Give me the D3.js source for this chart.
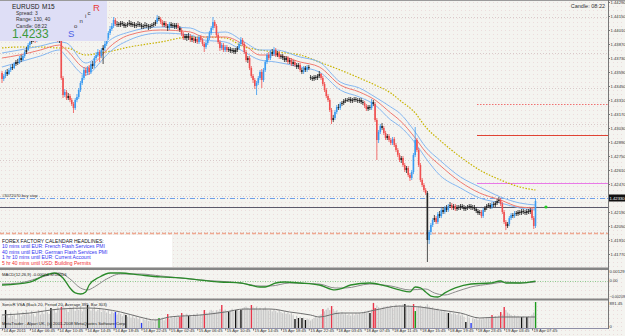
<!DOCTYPE html>
<html>
<head>
<meta charset="utf-8">
<script src="https://cdn.jsdelivr.net/npm/d3@7"></script>
<style>
body { margin: 0; background: #f4f4f0; }
svg { display: block; font-family: "Liberation Sans", Arial, sans-serif; }
</style>
</head>
<body>
<div id="chart"></div>
<script>
// EURUSD M15, 14 Apr 02:45 .. 19 Apr 08:15 (one entry per bar)
var firstOpen = 1.4358;
var closes = [
1.4352,1.4355,1.4359,1.4357,1.4361,1.4364,1.4363,1.4367,1.4369,1.4368,
1.4373,1.4371,1.4375,1.4379,1.4381,1.4386,1.4389,1.4391,1.4393,1.4390,
1.4395,1.4397,1.4394,1.4398,1.4396,1.4400,1.4397,1.4395,1.4399,1.4396,
1.4393,1.4395,1.4391,1.4390,1.4353,1.4336,1.4339,1.4333,1.4335,1.4331,
1.4327,1.4323,1.4331,1.4334,1.4341,1.4348,1.4353,1.4361,1.4358,1.4363,
1.4359,1.4367,1.4365,1.4373,1.4376,1.4379,1.4375,1.4381,1.4383,1.4387,
1.4393,1.4398,1.4402,1.4405,1.4411,1.4407,1.4407,1.4406,1.4408,1.4407,
1.4405,1.4406,1.4407,1.4408,1.4406,1.4407,1.4405,1.4406,1.4407,1.4406,
1.4404,1.4405,1.4406,1.4405,1.4404,1.4405,1.4406,1.4407,1.4409,1.4413,
1.4412,1.4409,1.4406,1.4408,1.4405,1.4403,1.4407,1.4405,1.4406,1.4404,
1.4406,1.4403,1.4401,1.4397,1.4393,1.4395,1.4393,1.4395,1.4391,1.4393,
1.4390,1.4392,1.4389,1.4394,1.4391,1.4387,1.4384,1.4388,1.4393,1.4398,
1.4403,1.4409,1.4405,1.4396,1.4389,1.4383,1.4386,1.4381,1.4384,1.4381,
1.4382,1.4380,1.4381,1.4379,1.4381,1.4383,1.4387,1.4391,1.4387,1.4379,
1.4371,1.4373,1.4363,1.4355,1.4351,1.4345,1.4348,1.4353,1.4359,1.4351,
1.4361,1.4369,1.4376,1.4373,1.4379,1.4377,1.4381,1.4376,1.4378,1.4374,
1.4375,1.4373,1.4371,1.4373,1.4369,1.4371,1.4367,1.4369,1.4366,1.4364,
1.4366,1.4361,1.4359,1.4363,1.4361,1.4364,1.4363,1.4353,1.4352,1.4354,
1.4353,1.4355,1.4357,1.4353,1.4347,1.4341,1.4335,1.4331,1.4321,1.4311,
1.4313,1.4319,1.4324,1.4323,1.4327,1.4328,1.4330,1.4331,1.4331,1.4332,
1.4330,1.4331,1.4332,1.4331,1.4330,1.4331,1.4329,1.4328,1.4325,1.4322,
1.4324,1.4323,1.4329,1.4327,1.4311,1.4291,1.4299,1.4305,1.4303,1.4298,
1.4293,1.4295,1.4291,1.4288,1.4292,1.4286,1.4281,1.4276,1.4271,1.4273,
1.4266,1.4261,1.4263,1.4256,1.4253,1.4259,1.4276,1.4291,1.4281,1.4266,
1.4251,1.4246,1.4241,1.4238,1.4191,1.4199,1.4206,1.4211,1.4213,1.4209,
1.4217,1.4215,1.4221,1.4219,1.4223,1.4221,1.4225,1.4226,1.4223,1.4225,
1.4222,1.4224,1.4223,1.4225,1.4224,1.4222,1.4223,1.4224,1.4225,1.4223,
1.4224,1.4222,1.4220,1.4218,1.4219,1.4215,1.4221,1.4223,1.4225,1.4226,
1.4224,1.4227,1.4226,1.4228,1.4230,1.4231,1.4227,1.4219,1.4209,1.4205,
1.4207,1.4213,1.4216,1.4215,1.4218,1.4217,1.4219,1.4218,1.4220,1.4219,
1.4218,1.4220,1.4219,1.4221,1.4213,1.4205,1.4230];
var highs = [
1.4360,1.4357,1.4361,1.4362,1.4363,1.4366,1.4367,1.4369,1.4371,1.4372,
1.4375,1.4376,1.4377,1.4381,1.4384,1.4388,1.4392,1.4394,1.4396,1.4395,
1.4397,1.4400,1.4399,1.4401,1.4400,1.4403,1.4402,1.4399,1.4401,1.4400,
1.4398,1.4397,1.4396,1.4393,1.4392,1.4355,1.4342,1.4341,1.4338,1.4337,
1.4333,1.4329,1.4333,1.4337,1.4343,1.4350,1.4356,1.4364,1.4363,1.4365,
1.4366,1.4369,1.4370,1.4375,1.4379,1.4382,1.4381,1.4383,1.4386,1.4390,
1.4395,1.4400,1.4405,1.4408,1.4414,1.4413,1.4410,1.4409,1.4410,1.4410,
1.4409,1.4408,1.4409,1.4411,1.4410,1.4409,1.4409,1.4408,1.4410,1.4409,
1.4408,1.4407,1.4409,1.4408,1.4407,1.4407,1.4408,1.4409,1.4411,1.4416,
1.4415,1.4414,1.4411,1.4410,1.4410,1.4407,1.4409,1.4409,1.4408,1.4408,
1.4408,1.4408,1.4405,1.4403,1.4399,1.4397,1.4397,1.4398,1.4397,1.4395,
1.4395,1.4394,1.4394,1.4396,1.4396,1.4393,1.4389,1.4390,1.4395,1.4400,
1.4405,1.4414,1.4411,1.4407,1.4398,1.4391,1.4388,1.4388,1.4386,1.4386,
1.4384,1.4384,1.4383,1.4383,1.4383,1.4385,1.4389,1.4394,1.4393,1.4389,
1.4381,1.4375,1.4375,1.4365,1.4357,1.4353,1.4350,1.4355,1.4361,1.4362,
1.4363,1.4371,1.4378,1.4379,1.4381,1.4382,1.4384,1.4383,1.4380,1.4380,
1.4377,1.4377,1.4375,1.4375,1.4375,1.4373,1.4373,1.4371,1.4371,1.4368,
1.4368,1.4368,1.4363,1.4365,1.4365,1.4366,1.4366,1.4356,1.4355,1.4356,
1.4356,1.4357,1.4360,1.4358,1.4355,1.4349,1.4343,1.4337,1.4333,1.4323,
1.4316,1.4321,1.4326,1.4327,1.4329,1.4330,1.4332,1.4333,1.4333,1.4334,
1.4334,1.4333,1.4334,1.4334,1.4333,1.4333,1.4333,1.4331,1.4330,1.4327,
1.4326,1.4326,1.4332,1.4331,1.4329,1.4313,1.4301,1.4307,1.4308,1.4305,
1.4300,1.4297,1.4297,1.4293,1.4294,1.4294,1.4288,1.4283,1.4278,1.4275,
1.4275,1.4268,1.4265,1.4265,1.4258,1.4261,1.4278,1.4304,1.4293,1.4283,
1.4268,1.4253,1.4248,1.4243,1.4240,1.4201,1.4208,1.4213,1.4216,1.4215,
1.4219,1.4220,1.4223,1.4224,1.4225,1.4226,1.4227,1.4229,1.4228,1.4227,
1.4227,1.4226,1.4226,1.4227,1.4227,1.4226,1.4225,1.4226,1.4227,1.4227,
1.4226,1.4226,1.4224,1.4222,1.4221,1.4221,1.4223,1.4225,1.4227,1.4228,
1.4228,1.4229,1.4229,1.4230,1.4232,1.4234,1.4233,1.4229,1.4221,1.4211,
1.4209,1.4215,1.4218,1.4218,1.4220,1.4220,1.4221,1.4221,1.4222,1.4222,
1.4221,1.4222,1.4222,1.4223,1.4223,1.4215,1.4233];
var lows = [
1.4348,1.4350,1.4353,1.4355,1.4356,1.4359,1.4361,1.4362,1.4365,1.4366,
1.4367,1.4369,1.4370,1.4373,1.4377,1.4380,1.4384,1.4387,1.4389,1.4388,
1.4389,1.4393,1.4392,1.4393,1.4394,1.4395,1.4395,1.4393,1.4394,1.4394,
1.4391,1.4391,1.4389,1.4388,1.4351,1.4333,1.4334,1.4331,1.4331,1.4329,
1.4325,1.4318,1.4321,1.4329,1.4332,1.4339,1.4346,1.4351,1.4355,1.4356,
1.4356,1.4357,1.4362,1.4363,1.4371,1.4374,1.4369,1.4373,1.4367,1.4380,
1.4385,1.4391,1.4396,1.4400,1.4403,1.4405,1.4404,1.4404,1.4404,1.4405,
1.4403,1.4403,1.4404,1.4405,1.4404,1.4404,1.4403,1.4403,1.4404,1.4404,
1.4402,1.4402,1.4403,1.4403,1.4401,1.4402,1.4403,1.4404,1.4405,1.4407,
1.4410,1.4407,1.4404,1.4404,1.4403,1.4400,1.4401,1.4403,1.4403,1.4402,
1.4402,1.4401,1.4399,1.4395,1.4391,1.4391,1.4390,1.4391,1.4389,1.4389,
1.4388,1.4388,1.4387,1.4387,1.4389,1.4385,1.4379,1.4382,1.4386,1.4391,
1.4396,1.4401,1.4403,1.4394,1.4387,1.4380,1.4381,1.4379,1.4379,1.4379,
1.4379,1.4378,1.4378,1.4377,1.4377,1.4379,1.4381,1.4385,1.4385,1.4377,
1.4369,1.4368,1.4361,1.4353,1.4348,1.4342,1.4336,1.4346,1.4351,1.4343,
1.4349,1.4359,1.4367,1.4371,1.4371,1.4375,1.4375,1.4374,1.4374,1.4372,
1.4372,1.4371,1.4369,1.4369,1.4367,1.4367,1.4365,1.4365,1.4364,1.4362,
1.4362,1.4359,1.4357,1.4357,1.4359,1.4359,1.4361,1.4351,1.4350,1.4350,
1.4351,1.4351,1.4353,1.4351,1.4345,1.4339,1.4333,1.4329,1.4319,1.4307,
1.4309,1.4311,1.4317,1.4321,1.4321,1.4325,1.4326,1.4328,1.4329,1.4329,
1.4328,1.4328,1.4329,1.4329,1.4328,1.4328,1.4327,1.4326,1.4323,1.4320,
1.4320,1.4321,1.4321,1.4325,1.4309,1.4271,1.4288,1.4297,1.4301,1.4296,
1.4291,1.4291,1.4289,1.4286,1.4286,1.4284,1.4279,1.4274,1.4269,1.4268,
1.4264,1.4259,1.4258,1.4254,1.4250,1.4251,1.4257,1.4274,1.4279,1.4264,
1.4249,1.4244,1.4239,1.4236,1.4169,1.4187,1.4196,1.4204,1.4209,1.4207,
1.4207,1.4213,1.4213,1.4217,1.4217,1.4219,1.4219,1.4223,1.4221,1.4221,
1.4220,1.4220,1.4221,1.4221,1.4222,1.4220,1.4220,1.4221,1.4222,1.4221,
1.4221,1.4220,1.4218,1.4216,1.4216,1.4213,1.4213,1.4219,1.4221,1.4223,
1.4222,1.4222,1.4224,1.4224,1.4226,1.4228,1.4225,1.4217,1.4207,1.4201,
1.4203,1.4205,1.4211,1.4213,1.4213,1.4215,1.4215,1.4216,1.4216,1.4217,
1.4216,1.4216,1.4217,1.4217,1.4211,1.4202,1.4203];
// Monday open after the weekend gap
var gapBars = [177];
var gapOpens = [1.4354];
// candles painted plain although the body is large
var plainCandles = [244];

// Sonic R dragon (EMA34 high / close / low) and EMA89, read at these bars
var maBars = [0,10,22,33,37,48,56,60,73,91,108,116,128,139,148,157,171,182,194,205,214,223,228,237,243,251,263,274,286,297,306];
var dragonHigh = [1.4378,1.4381,1.4385,1.4389,1.4388,1.4368,1.4378,1.4388,1.4399,1.4404,1.4403,1.4398,1.4399,1.4389,1.4381,1.4381,1.4374,1.4369,1.4349,1.4343,1.4334,1.4324,1.4318,1.4299,1.4284,1.4271,1.4254,1.4244,1.4234,1.4228,1.4226];
var dragonMid = [1.4373,1.4376,1.4381,1.4386,1.4381,1.4363,1.4373,1.4381,1.4396,1.4401,1.4399,1.4394,1.4394,1.4386,1.4376,1.4376,1.4369,1.4364,1.4346,1.4339,1.4331,1.4318,1.4311,1.4293,1.4279,1.4266,1.4249,1.4238,1.4231,1.4224,1.4223];
var dragonLow = [1.4364,1.4369,1.4375,1.4381,1.4374,1.4356,1.4368,1.4376,1.4391,1.4398,1.4396,1.4391,1.4389,1.4379,1.4371,1.4369,1.4364,1.4359,1.4341,1.4334,1.4326,1.4311,1.4305,1.4288,1.4273,1.4256,1.4243,1.4233,1.4228,1.4223,1.4221];
var ema89 = [1.4383,1.4384,1.4384,1.4383,1.4383,1.4376,1.4378,1.4379,1.4384,1.4389,1.4394,1.4394,1.4393,1.4384,1.4381,1.4379,1.4376,1.4369,1.4361,1.4353,1.4346,1.4338,1.4331,1.4318,1.4304,1.4291,1.4274,1.4261,1.4251,1.4244,1.4241];

// horizontal levels
var gridLevels = [1.4414,1.4378,1.4343,1.4307,1.4271,1.4235,1.4199];
var tpLevel = 1.4327, slLevel = 1.4296, entryLevel = 1.4248;
var buyStopLevel = 1.4233, bidLevel = 1.4224, lowZoneLevel = 1.4198;
var lastPrice = 1.4233;

var priceTicks = [1.4429,1.4415,1.4401,1.4387,1.4373,1.4359,1.4345,1.4331,1.4317,1.4303,1.4289,1.4275,1.4261,1.4247,1.4219,1.4205,1.4191,1.4177];
var timeLabels = ["14 Apr 2011","14 Apr 06:45","14 Apr 10:45","14 Apr 14:45","14 Apr 18:45","14 Apr 22:45","15 Apr 02:45","15 Apr 06:45","15 Apr 10:45","15 Apr 14:45","15 Apr 18:45","15 Apr 22:45","18 Apr 03:45","18 Apr 07:45","18 Apr 11:45","18 Apr 15:45","18 Apr 19:45","18 Apr 23:45","19 Apr 03:45","19 Apr 07:45"];
var barsPerLabel = 16;

// MACD lines
var macdBars = [0,16,25,30,35,39,42,45,48,50,56,62,68,79,91,102,114,125,137,142,148,151,157,162,171,182,191,194,200,211,220,228,234,237,240,243,246,250,254,260,269,280,286,289,291,297,306];
var macdMain = [-0.00052,-0.00016,0.00069,0.00093,0.00033,-0.00088,-0.00148,-0.00161,-0.00136,-0.00052,0.00045,0.00093,0.00093,0.00069,0.00045,0.00033,0.00008,-0.00016,-0.00028,-0.00052,-0.00076,-0.00076,-0.00028,-0.00016,-0.00028,-0.00052,-0.00112,-0.00100,-0.00052,-0.00028,-0.00064,-0.00112,-0.00136,-0.00076,-0.00088,-0.00136,-0.00185,-0.00197,-0.00148,-0.00088,-0.00040,-0.00028,-0.00004,-0.00028,-0.00028,-0.00028,-0.00004];
var signalBars = [0,10,25,33,39,45,49,53,59,68,79,91,114,137,148,154,165,182,191,197,211,223,234,243,248,254,260,269,280,289,297,306];
var macdSignal = [-0.00040,-0.00028,0.00057,0.00093,0.00021,-0.00088,-0.00112,-0.00076,0.00008,0.00081,0.00081,0.00057,0.00008,-0.00028,-0.00064,-0.00064,-0.00028,-0.00040,-0.00088,-0.00088,-0.00040,-0.00064,-0.00112,-0.00100,-0.00148,-0.00173,-0.00136,-0.00076,-0.00040,-0.00016,-0.00028,-0.00016];

// SonicR VSA volumes (ticks)
var volumes = [
420,380,605,460,350,520,410,470,300,560,480,390,540,450,610,500,430,580,470,390,
520,610,450,560,480,700,530,470,672,590,640,520,700,610,706,760,680,620,540,700,
650,720,580,690,610,740,560,660,630,773,700,590,650,720,560,610,680,540,620,590,
520,600,470,560,500,538,440,520,470,400,490,437,380,440,350,410,330,390,300,360,
168,320,280,350,240,300,260,220,310,280,336,290,350,260,330,470,300,380,340,400,
360,420,370,504,450,390,480,403,440,380,470,420,500,390,460,430,605,520,480,550,
610,570,520,600,560,640,773,580,620,540,538,590,650,560,605,620,580,605,660,700,
720,680,640,773,700,660,720,620,680,600,650,700,620,590,640,560,610,580,520,600,
540,500,560,480,520,460,500,430,302,410,336,380,336,350,269,320,290,250,300,340,
380,330,420,460,638,560,620,680,600,739,640,560,590,520,480,540,460,500,440,470,
420,480,430,500,450,520,470,540,560,510,590,504,620,840,672,760,700,650,690,720,
660,740,700,760,680,720,790,700,760,730,800,806,720,770,740,700,806,571,690,740,
760,720,690,740,800,720,680,700,640,620,660,580,610,560,590,520,504,540,470,510,
480,440,500,420,460,380,202,400,350,168,330,300,360,280,320,290,340,300,360,330,
380,437,350,400,360,420,538,450,706,600,520,480,440,400,430,380,410,360,370,390,
350,370,400,360,450,520,874];
var vsaMarkBars = [2,28,34,49,65,71,80,90,95,102,103,107,116,126,130,134,137,143,168,170,172,174,184,189,211,213,214,231,236,237,256,266,269,281,286,288,298,301,306];
var vsaMarkTone = ["k","k","r","k","b","k","b","g","r","r","r","k","r","r","k","k","k","r","k","k","k","k","r","r","k","r","r","k","r","g","k","k","b","r","r","r","k","k","g"];
var avgBars = [0,16,33,50,68,79,88,96,114,128,139,154,165,177,182,194,205,214,228,240,251,263,274,286,306];
var volumeAvg = [437,504,638,672,538,370,269,370,437,538,638,638,538,437,370,504,504,605,739,706,605,504,336,370,370];

function drawChart(){
    var w = 625, h = 336;
    var axisX = 608;
    var small = 4.2;

    var svg = d3.select("#chart").append("svg")
        .attr("width", w)
        .attr("height", h);

    var defs = svg.append("defs");
    var pat = defs.append("pattern").attr("id", "dots")
        .attr("width", 4).attr("height", 4)
        .attr("patternUnits", "userSpaceOnUse");
    pat.append("rect").attr("width", 4).attr("height", 4).attr("fill", "#f4f4f0");
    pat.append("rect").attr("x", 1).attr("y", 2).attr("width", 1).attr("height", 1).attr("fill", "#ecdcdc");
    defs.append("clipPath").attr("id", "mainClip")
        .append("rect").attr("x", 0).attr("y", 0).attr("width", axisX).attr("height", 267);

    svg.append("rect").attr("width", w).attr("height", h).attr("fill", "url(#dots)");

    var x = d3.scaleLinear().domain([0, 304]).range([2, 532]);
    var y = d3.scaleLinear().domain([1.4166, 1.4431]).range([265, 0]);
    var yMacd = d3.scaleLinear().domain([-0.00209, 0.00129]).range([298, 270]);
    var yVol = d3.scaleLinear().domain([0, 891.45]).range([328, 301.5]);

    var main = svg.append("g").attr("clip-path", "url(#mainClip)");

    // grid
    main.selectAll("line.grid").data(gridLevels).enter().append("line")
        .attr("x1", 0).attr("x2", axisX)
        .attr("y1", function(d){ return Math.round(y(d)) + 0.5; })
        .attr("y2", function(d){ return Math.round(y(d)) + 0.5; })
        .attr("stroke", "#d9caca").attr("stroke-dasharray", "1,2");

    // order / level lines
    function level(p, x1, color, dash, width){
        var yy = Math.round(y(p)) + 0.5;
        main.append("line").attr("x1", x1).attr("x2", axisX)
            .attr("y1", yy).attr("y2", yy)
            .attr("stroke", color).attr("stroke-width", width || 1)
            .attr("stroke-dasharray", dash);
    }
    level(tpLevel, 477, "#f07070", "1.5,1.5");
    level(slLevel, 477, "#e04434", null, 1.2);
    level(entryLevel, 477, "#e87ae8", null, 1.2);
    level(buyStopLevel, 0, "#6f9ee8", "5,2,1,2");
    level(bidLevel, 0, "#5a5a6a", null);
    level(lowZoneLevel, 0, "#f0a890", "4,2", 1.5);

    // moving averages
    function maLine(vals, color, width, dash){
        var line = d3.line()
            .x(function(d, i){ return x(maBars[i]); })
            .y(function(d){ return y(d); })
            .curve(d3.curveMonotoneX);
        main.append("path").datum(vals).attr("d", line)
            .attr("fill", "none").attr("stroke", color)
            .attr("stroke-width", width).attr("stroke-dasharray", dash);
    }
    maLine(ema89, "#c8b400", 1.2, "1.5,1.5");
    maLine(dragonHigh, "#86b8f0", 1, null);
    maLine(dragonLow, "#86b8f0", 1, null);
    maLine(dragonMid, "#f07a70", 1, null);

    // candles
    var bars = closes.map(function(c, i){
        var g = gapBars.indexOf(i);
        var o = i === 0 ? firstOpen : (g >= 0 ? gapOpens[g] : closes[i - 1]);
        var tone = "#262626";
        if (plainCandles.indexOf(i) < 0 && Math.abs(c - o) >= 0.00025) {
            tone = c > o ? "#3a9bf2" : "#f05050";
        }
        return {i: i, o: o, c: c, h: highs[i], l: lows[i], tone: tone};
    });
    var cg = main.append("g");
    cg.selectAll("line.wick").data(bars).enter().append("line")
        .attr("x1", function(d){ return x(d.i); })
        .attr("x2", function(d){ return x(d.i); })
        .attr("y1", function(d){ return y(d.h); })
        .attr("y2", function(d){ return y(d.l); })
        .attr("stroke", function(d){ return d.tone; })
        .attr("stroke-width", 0.8);
    cg.selectAll("rect.body").data(bars).enter().append("rect")
        .attr("x", function(d){ return x(d.i) - 0.8; })
        .attr("width", 1.6)
        .attr("y", function(d){ return y(Math.max(d.o, d.c)); })
        .attr("height", function(d){ return Math.max(0.8, Math.abs(y(d.o) - y(d.c))); })
        .attr("fill", function(d){ return d.tone; });

    // bid marker
    main.append("circle").attr("cx", x(312)).attr("cy", y(bidLevel))
        .attr("r", 1.6).attr("fill", "#22cc22");

    main.append("text").attr("x", 2).attr("y", y(buyStopLevel) - 1.5)
        .attr("font-size", small).attr("fill", "#333")
        .text("#3072070 buy stop");

    // forex factory headlines
    svg.append("rect").attr("x", 0).attr("y", 235).attr("width", 172).attr("height", 32).attr("fill", "#ffffff");
    var ff = [
        ["FOREX FACTORY CALENDAR  HEADLINES:", "#111"],
        ["10 mins until EUR: French Flash Services PMI", "#3030f0"],
        ["40 mins until EUR: German Flash Services PMI", "#3030f0"],
        ["1 hr 10 mins until EUR: Current Account", "#3030f0"],
        ["5 hr 40 mins until USD: Building Permits", "#f03030"]
    ];
    svg.selectAll("text.ff").data(ff).enter().append("text")
        .attr("x", 2)
        .attr("y", function(d, i){ return 243 + i * 5.4; })
        .attr("font-size", 5).attr("fill", function(d){ return d[1]; })
        .text(function(d){ return d[0]; });

    // info box
    svg.append("rect").attr("x", 0).attr("y", 0).attr("width", 107).attr("height", 41).attr("fill", "#dedef6");
    function label(t, px, py, size, color){
        svg.append("text").attr("x", px).attr("y", py).attr("font-size", size)
            .attr("fill", color).text(t);
    }
    label("EURUSD", 12, 8.5, 6.5, "#222");
    label("M15", 42, 8.5, 6.5, "#222");
    label("Spread: 3", 16, 15, 5, "#333");
    label("Range: 130, 40", 16, 21, 5, "#333");
    label("Candle: 08:22", 16, 27.5, 5, "#333");
    label(lastPrice.toFixed(4), 12, 38, 12, "#3c9a3c");
    label("S", 68, 36.5, 9.5, "#4b5fe6");
    label("o", 74, 28, 6, "#333");
    label("n", 79.5, 23, 6, "#333");
    label("i", 85, 18, 6, "#333");
    label("c", 87.5, 14.5, 6, "#333");
    label("R", 93, 10.5, 9.5, "#e83a3a");

    svg.append("text").attr("x", 605).attr("y", 7.5).attr("text-anchor", "end")
        .attr("font-size", 5.5).attr("fill", "#333").text("Candle: 08:22");

    // MACD panel
    svg.append("line").attr("x1", 0).attr("x2", axisX)
        .attr("y1", Math.round(yMacd(0)) + 0.5).attr("y2", Math.round(yMacd(0)) + 0.5)
        .attr("stroke", "#8fc88f").attr("stroke-dasharray", "1,1.5");
    var sigLine = d3.line()
        .x(function(d, i){ return x(signalBars[i]); })
        .y(function(d){ return yMacd(d); })
        .curve(d3.curveMonotoneX);
    var mainLine = d3.line()
        .x(function(d, i){ return x(macdBars[i]); })
        .y(function(d){ return yMacd(d); })
        .curve(d3.curveMonotoneX);
    svg.append("path").datum(macdSignal).attr("d", sigLine)
        .attr("fill", "none").attr("stroke", "#8c8c8c").attr("stroke-width", 1);
    svg.append("path").datum(macdMain).attr("d", mainLine)
        .attr("fill", "none").attr("stroke", "#2a8a2a").attr("stroke-width", 1.3);
    label("MACD(12,26,9) -0.00004 -0.00016", 2, 275.5, small, "#222");

    // VSA panel
    var toneColor = {k: "#111111", r: "#e8354a", b: "#2a3cf0", g: "#1c9a1c"};
    var vol = volumes.map(function(v, i){
        var m = vsaMarkBars.indexOf(i);
        return {i: i, v: v, color: m >= 0 ? toneColor[vsaMarkTone[m]] : "#c8c8c8"};
    });
    svg.append("g").selectAll("rect").data(vol).enter().append("rect")
        .attr("x", function(d){ return x(d.i) - 0.6; })
        .attr("width", function(d){ return d.color === "#c8c8c8" ? 1.2 : 1.4; })
        .attr("y", function(d){ return yVol(d.v); })
        .attr("height", function(d){ return yVol(0) - yVol(d.v); })
        .attr("fill", function(d){ return d.color; });
    var avgLine = d3.line()
        .x(function(d, i){ return x(avgBars[i]); })
        .y(function(d){ return yVol(d); })
        .curve(d3.curveMonotoneX);
    svg.append("path").datum(volumeAvg).attr("d", avgLine)
        .attr("fill", "none").attr("stroke", "#6e6e6e").attr("stroke-width", 1);
    label("SonicR VSA (Back 20, Period 20, Average 395, Bar 303)", 2, 305.5, small, "#222");
    label("MetaTrader - Alpari UK, (c) 2001-2008 MetaQuotes Software Corp.", 2, 324.5, small, "#222");

    // panel borders
    svg.append("line").attr("x1", 0).attr("x2", w).attr("y1", 0.5).attr("y2", 0.5).attr("stroke", "#9a9a9a");
    svg.append("rect").attr("x", 0).attr("y", 267.5).attr("width", axisX + 1).attr("height", 2.5).attr("fill", "#858585");
    svg.append("rect").attr("x", 0).attr("y", 298.5).attr("width", axisX + 1).attr("height", 2).attr("fill", "#858585");
    svg.append("line").attr("x1", 0).attr("x2", axisX + 1).attr("y1", 328.5).attr("y2", 328.5).attr("stroke", "#8e8ea6");
    svg.append("line").attr("x1", axisX + 0.5).attr("x2", axisX + 0.5).attr("y1", 0).attr("y2", 329).attr("stroke", "#777");

    // price axis
    var yAxis = d3.axisRight(y).tickValues(priceTicks)
        .tickFormat(d3.format(".5f")).tickSize(1.5).tickPadding(0.5);
    var ya = svg.append("g").attr("transform", "translate(" + (axisX + 0.5) + ",0)").call(yAxis);
    ya.select(".domain").remove();
    ya.selectAll("text").attr("font-size", small).attr("fill", "#333");
    ya.selectAll("line").attr("stroke", "#777");

    svg.append("rect").attr("x", axisX + 1).attr("y", y(lastPrice) - 3.5)
        .attr("width", w - axisX).attr("height", 7).attr("fill", "#111");
    svg.append("text").attr("x", axisX + 1.5).attr("y", y(lastPrice) + 1.6)
        .attr("font-size", small).attr("fill", "#fff").text(lastPrice.toFixed(5));

    // indicator scales
    var sideLabels = [
        [d3.format(".5f")(yMacd.domain()[1]), yMacd.range()[1] + 3.2],
        ["0.00", yMacd(0) + 1.6],
        [d3.format(".5f")(yMacd.domain()[0]), yMacd.range()[0] - 0.5],
        [d3.format(".2f")(yVol.domain()[1]), yVol.range()[1] + 3.2],
        ["0", yVol.range()[0] - 0.5]
    ];
    svg.selectAll("text.side").data(sideLabels).enter().append("text")
        .attr("x", axisX + 1.5).attr("y", function(d){ return d[1]; })
        .attr("font-size", function(d){ return d[0].length > 7 ? 3.7 : small; })
        .attr("fill", "#333")
        .text(function(d){ return d[0]; });

    // time axis
    var xAxis = d3.axisBottom(x)
        .tickValues(timeLabels.map(function(d, i){ return i * barsPerLabel; }))
        .tickFormat(function(d, i){ return timeLabels[i]; })
        .tickSize(2).tickPadding(0);
    var xa = svg.append("g").attr("transform", "translate(0,328.5)").call(xAxis);
    xa.select(".domain").remove();
    xa.selectAll("line").attr("stroke", "#777");
    xa.selectAll("text").attr("font-size", small).attr("fill", "#333")
        .attr("text-anchor", "start").attr("dx", 1).attr("dy", "0.45em");
}

drawChart();
</script>
</body>
</html>
